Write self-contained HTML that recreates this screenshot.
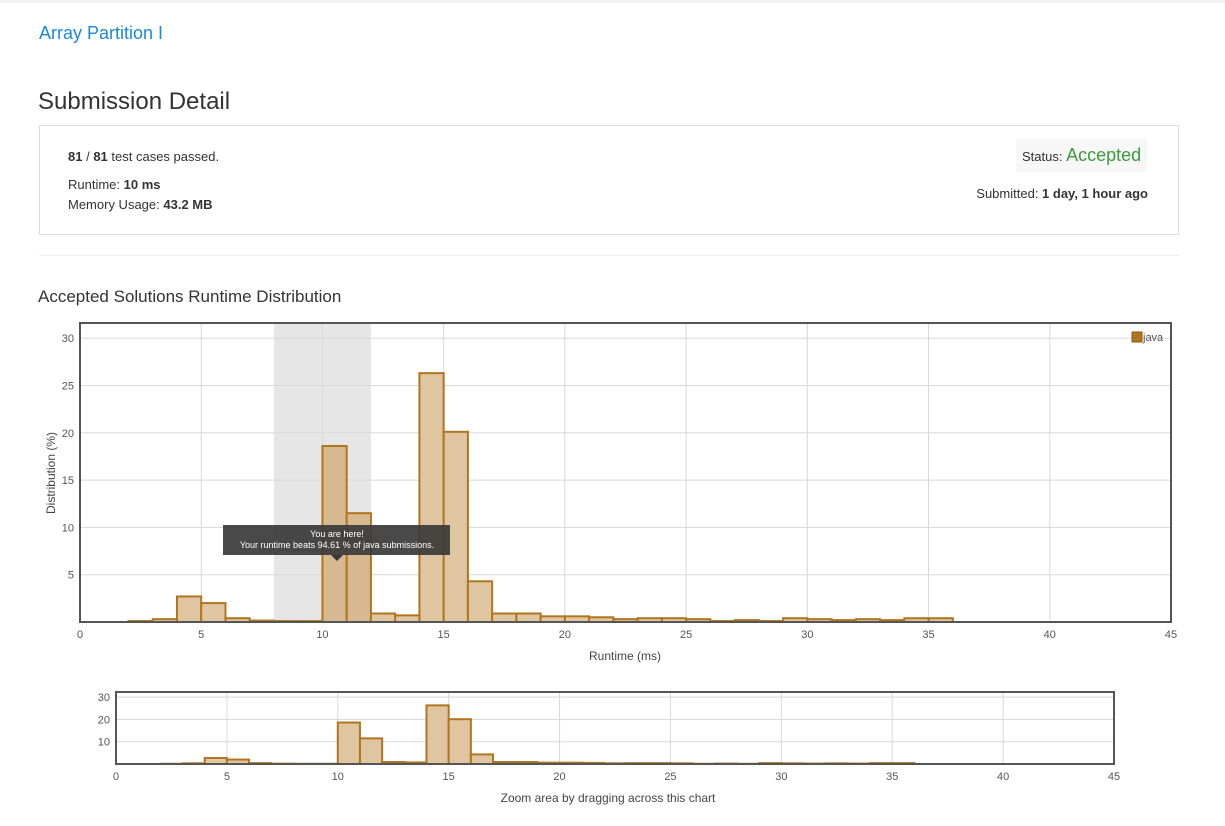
<!DOCTYPE html>
<html><head><meta charset="utf-8">
<style>
body{margin:0;background:#fff;font-family:"Liberation Sans",Arial,sans-serif;color:#333;width:1225px;height:826px;overflow:hidden;position:relative}
.a{position:absolute}
</style></head><body>
<div class="a" style="left:0;top:0;width:1225px;height:3px;background:#f3f3f3"></div>
<div class="a" style="left:39px;top:23px;font-size:18px;color:#1a8ad6">Array Partition I</div>
<div class="a" style="left:38px;top:88px;font-size:24px;color:#333">Submission Detail</div>
<div class="a" style="left:39px;top:125px;width:1138px;height:108px;border:1px solid #ddd">
 <div class="a" style="left:28px;top:23px;font-size:13px"><b>81</b> / <b>81</b> test cases passed.</div>
 <div class="a" style="left:28px;top:51px;font-size:13px">Runtime: <b>10 ms</b></div>
 <div class="a" style="left:28px;top:71px;font-size:13px">Memory Usage: <b>43.2 MB</b></div>
 <div class="a" style="left:976px;top:13px;padding:6px 6px;background:#f7f7f7;font-size:13px">Status: <span style="color:#3c9a3c;font-size:18px">Accepted</span></div>
 <div class="a" style="right:30px;top:60px;font-size:13px">Submitted: <b>1 day, 1 hour ago</b></div>
</div>
<div class="a" style="left:39px;top:255px;width:1140px;height:1px;background:#eee"></div>
<div class="a" style="left:38px;top:287px;font-size:17px;color:#333">Accepted Solutions Runtime Distribution</div>
<svg class="a" style="left:0;top:0" width="1225" height="826" id="chart"></svg>
<script>
const bins=[2,3,4,5,6,7,8,9,10,11,12,13,14,15,16,17,18,19,20,21,22,23,24,25,26,27,28,29,30,31,32,33,34,35];
const values=[0.1,0.3,2.7,2.0,0.4,0.15,0.1,0.1,18.6,11.5,0.9,0.7,26.3,20.1,4.3,0.9,0.9,0.6,0.6,0.5,0.3,0.4,0.4,0.3,0.1,0.2,0.1,0.4,0.3,0.2,0.3,0.2,0.4,0.4];
const xTicks=[0,5,10,15,20,25,30,35,40,45];
const yTicks=[5,10,15,20,25,30];
const navYTicks=[10,20,30];
const selected=[10,11];
const band=[8,12];
const NS="http://www.w3.org/2000/svg";
const svg=document.getElementById('chart');
function mk(t,a,p){const e=document.createElementNS(NS,t);for(const k in a)e.setAttribute(k,a[k]);(p||svg).appendChild(e);return e;}
function draw(L,R,T,B,ymax,yt,main){
 const x=v=>L+(R-L)*v/45, y=v=>B-(B-T)*v/ymax;
 const g=mk('g',{});
 
 
 if(main){const r=mk('rect',{x:x(band[0]),y:T,width:x(band[1])-x(band[0]),height:B-T,fill:'#e6e6e6'},g);
  }
 xTicks.forEach(v=>{mk('line',{x1:x(v),x2:x(v),y1:T,y2:B,stroke:'#d8d8d8'},g);
  const t=mk('text',{x:x(v),y:B+16,'text-anchor':'middle','font-size':11,fill:'#555'},g);t.textContent=v;
  });
 yt.forEach(v=>{mk('line',{x1:L,x2:R,y1:y(v),y2:y(v),stroke:'#d8d8d8'},g);
  const t=mk('text',{x:L-6,y:y(v)+4,'text-anchor':'end','font-size':11,fill:'#555'},g);t.textContent=v;
  });
 bins.forEach((b,i)=>{const sel=main&&selected.includes(b);
  const r=mk('rect',{x:x(b),y:y(values[i]),width:x(b+1)-x(b),height:B-y(values[i]),fill:sel?'#d6b891':'#e0c6a0',stroke:'#b0751f','stroke-width':2},g);
  });
 mk('rect',{x:L,y:T,width:R-L,height:B-T,fill:'none',stroke:'#555','stroke-width':2},g);
 return {x,y};
}
const m=draw(80,1171,323,622,31.6,yTicks,true);
draw(116,1114,692,764,32.3,navYTicks,false);
let t=mk('text',{x:625,y:660,'text-anchor':'middle','font-size':12,fill:'#444'});t.textContent='Runtime (ms)';

t=mk('text',{x:0,y:0,'text-anchor':'middle','font-size':12,fill:'#444',transform:'translate(55,473) rotate(-90)'});t.textContent='Distribution (%)';

t=mk('text',{x:608,y:802,'text-anchor':'middle','font-size':12,fill:'#444'});t.textContent='Zoom area by dragging across this chart';

const lg=mk('rect',{x:1132,y:332,width:10,height:10,fill:'#b0751f',stroke:'#8a5a18'});

t=mk('text',{x:1143,y:341,'font-size':11,fill:'#555'});t.textContent='java';

const tg=mk('g',{});

mk('rect',{x:223,y:525,width:227,height:30,fill:'#3a3a3a',opacity:0.92},tg);
mk('polygon',{points:'331,555 343,555 337,561',fill:'#3a3a3a'},tg);
t=mk('text',{x:337,y:537,'text-anchor':'middle','font-size':9,fill:'#fff'},tg);t.textContent='You are here!';
t=mk('text',{x:337,y:548,'text-anchor':'middle','font-size':9,fill:'#fff'},tg);t.textContent='Your runtime beats 94.61 % of java submissions.';
</script>
</body></html>
